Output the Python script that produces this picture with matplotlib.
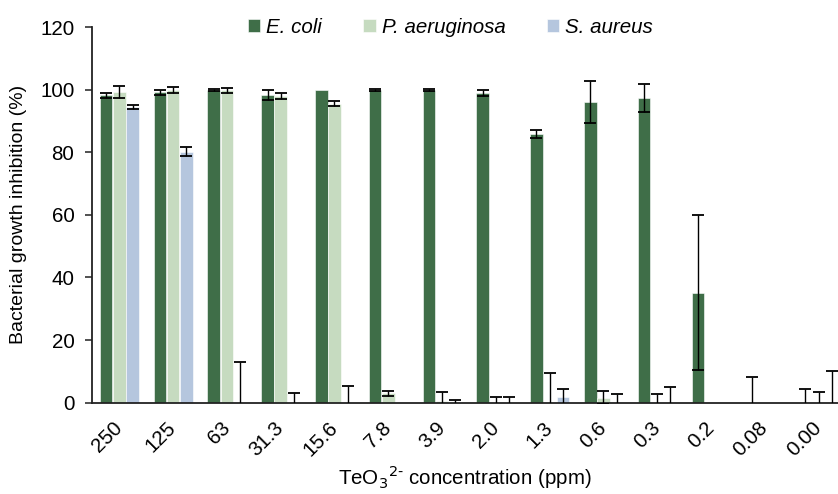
import numpy as np
import matplotlib.pyplot as plt

plt.rcParams['font.family'] = ['Liberation Sans', 'DejaVu Sans']

# Концентрации TeO3(2-), ppm
concentrations = ["250", "125", "63", "31.3", "15.6", "7.8", "3.9", "2.0",
                  "1.3", "0.6", "0.3", "0.2", "0.08", "0.00"]

# Ингибирование роста (%) и стандартные отклонения
ecoli = [98.2, 99.2, 99.8, 98.3, 100.0, 100.0, 100.0, 99.0, 85.9, 96.1, 97.3, 35.1, 0.0, 0.0]
ecoli_err = [0.8, 0.8, 0.3, 1.7, 0.0, 0.3, 0.3, 1.0, 1.2, 6.7, 4.5, 24.8, 8.1, 4.4]

paer = [99.3, 99.8, 99.8, 98.0, 95.5, 3.0, 0.4, 0.0, 0.0, 1.6, 0.0, 0.0, 0.0, 0.0]
paer_err = [2.0, 1.0, 0.8, 0.8, 0.8, 0.8, 2.9, 1.9, 9.5, 2.2, 2.8, 0.0, 0.0, 3.3]

saur = [94.5, 80.2, 0.0, 0.0, 0.0, 0.0, 0.0, 0.0, 1.7, 0.0, 0.0, 0.0, 0.0, 0.0]
saur_err = [0.5, 1.5, 12.9, 3.0, 5.4, 0.0, 0.8, 1.9, 2.7, 2.8, 4.9, 0.0, 0.0, 10.0]

colors = ['#3F6E48', '#C6DBC0', '#B5C6DE']
names = ['E. coli', 'P. aeruginosa', 'S. aureus']

fs = 14.8

fig = plt.figure(figsize=(8.38, 4.94), dpi=100)
ax = fig.add_axes([0.1103, 0.185, 0.8897, 0.76])

x = np.arange(len(concentrations))
w = 0.235
step = 0.245
for k, (vals, errs) in enumerate([(ecoli, ecoli_err), (paer, paer_err), (saur, saur_err)]):
    pos = x + (k - 1) * step
    ax.bar(pos, vals, width=w, color=colors[k], edgecolor='white', linewidth=0.4,
           label=names[k], zorder=2)
    errs = np.array(errs)
    m = errs > 0
    ax.errorbar(pos[m], np.array(vals)[m], yerr=errs[m], fmt='none', ecolor='black',
                elinewidth=1.0, capsize=4.3, capthick=1.3, zorder=3)

ax.set_xlim(-0.5, 13.36)
ax.set_ylim(0, 120)
ax.set_yticks(np.arange(0, 121, 20))
ax.set_xticks(x)
ax.set_xticklabels(concentrations, rotation=45, ha='right', va='center',
                   rotation_mode='anchor', fontsize=fs)
ax.tick_params(axis='x', length=0, pad=16)
ax.tick_params(axis='y', labelsize=fs, length=5, width=1.2, color='#333333', pad=8)
for s in ['top', 'right']:
    ax.spines[s].set_visible(False)
for s in ['left', 'bottom']:
    ax.spines[s].set_linewidth(1.3)
    ax.spines[s].set_color('#222222')

ax.set_ylabel('Bacterial growth inhibition (%)', fontsize=14)
ax.yaxis.set_label_coords(-0.088, 0.5)
ax.set_xlabel('TeO$_3$$^{2\\text{-}}$ concentration (ppm)', fontsize=fs, va='center')
ax.xaxis.set_label_coords(0.5, -0.2)

leg = ax.legend(loc='upper center', bbox_to_anchor=(0.48, 1.075), ncol=3, frameon=False,
                handlelength=0.6, handleheight=0.6, handletextpad=0.3,
                columnspacing=2.0, prop={'style': 'italic', 'size': fs})

fig.savefig('out.png', dpi=100)
